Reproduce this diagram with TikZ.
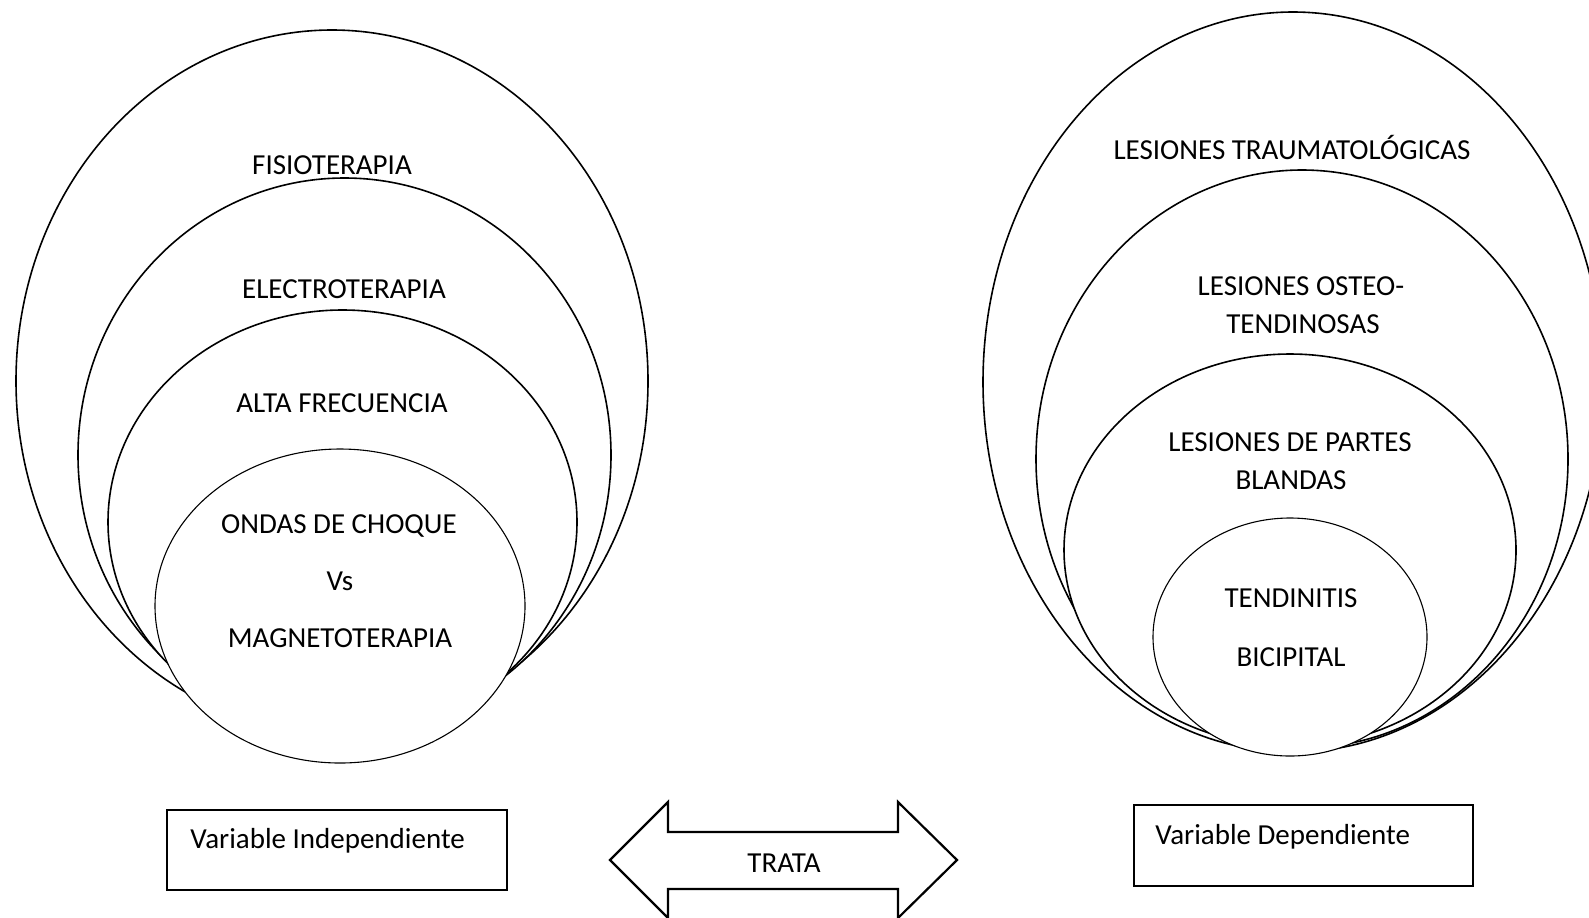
\documentclass[tikz,border=0pt]{standalone}
\usepackage{fontspec}
\setmainfont{Carlito}
\usetikzlibrary{shapes.geometric}
\begin{document}
\begin{tikzpicture}[x=0.5pt,y=-0.5pt,
  ell/.style={draw, fill=white, ellipse, inner sep=0pt, line width=0.8pt},
  ellin/.style={ell, line width=0.55pt},
  lbl/.style={anchor=base, inner sep=0pt, font=\fontsize{14.5pt}{17pt}\selectfont},
  lbll/.style={lbl, anchor=base west},
  vbox/.style={draw, inner sep=0pt, line width=0.9pt},
  bigarrow/.style={draw, line width=1.1pt, line join=miter}]
\useasboundingbox (0,0) rectangle (1589,917);
% left nested ellipses
\node[ell, minimum width=316pt, minimum height=351pt] (L1) at (332,381) {};
\node[ell, minimum width=266.5pt, minimum height=277pt] (L2) at (344.5,455) {};
\node[ell, minimum width=234.5pt, minimum height=212pt] (L3) at (342.5,522) {};
\node[ellin, minimum width=185pt, minimum height=157pt] (L4) at (340,606) {};
% right nested ellipses
\node[ell, minimum width=310pt, minimum height=370pt] (R1) at (1293,382) {};
\node[ell, minimum width=266pt, minimum height=289pt] (R2) at (1302,459) {};
\node[ell, minimum width=226pt, minimum height=196pt] (R3) at (1290,550) {};
\node[ellin, minimum width=137pt, minimum height=119pt] (R4) at (1290,637) {};
% left labels
\node[lbl] (tFis) at (332,174) {FISIOTERAPIA};
\node[lbl] (tEle) at (344,298) {ELECTROTERAPIA};
\node[lbl] (tAlt) at (342,412) {ALTA FRECUENCIA};
\node[lbl] (tOnd) at (339,533) {ONDAS DE CHOQUE};
\node[lbl] (tVs) at (340,590) {Vs};
\node[lbl] (tMag) at (340,647) {MAGNETOTERAPIA};
% right labels
\node[lbl] (tTra) at (1292,159) {LESIONES TRAUMATOLÓGICAS};
\node[lbl] (tOst1) at (1301,295) {LESIONES OSTEO-};
\node[lbl] (tOst2) at (1303,333) {TENDINOSAS};
\node[lbl] (tPar1) at (1290,451) {LESIONES DE PARTES};
\node[lbl] (tPar2) at (1291,489) {BLANDAS};
\node[lbl] (tTen) at (1291,607) {TENDINITIS};
\node[lbl] (tBic) at (1291,666) {BICIPITAL};
% variable boxes
\node[vbox, minimum width=170pt, minimum height=40pt] (boxL) at (337,850) {};
\node[lbll] (tVI) at (190,848) {Variable Independiente};
\node[vbox, minimum width=169.5pt, minimum height=40.5pt] (boxR) at (1303.5,845.5) {};
\node[lbll] (tVD) at (1155,844) {Variable Dependiente};
% double arrow
\draw[bigarrow] (610,860) -- (668,802) -- (668,832) -- (898,832) -- (898,802)
  -- (957,860) -- (898,918) -- (898,889) -- (668,889) -- (668,918) -- cycle;
\node[lbl] (tTrata) at (784,872) {TRATA};
\end{tikzpicture}
\end{document}
